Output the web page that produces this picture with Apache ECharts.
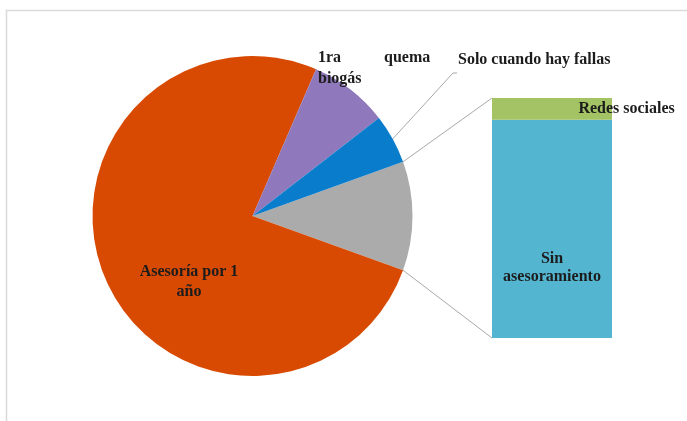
<!DOCTYPE html>
<html>
<head>
<meta charset="utf-8">
<script src="https://cdn.jsdelivr.net/npm/echarts@6/dist/echarts.min.js"></script>
<style>
  html, body { margin: 0; padding: 0; background: #ffffff; }
  #chart { width: 687px; height: 421px; }
</style>
</head>
<body>
<div id="chart"></div>
<script>
// Main pie slices (percent of respondents)
const mainNames = ['Asesoría por 1 año', '1ra quema biogás', 'Solo cuando hay fallas'];
const mainValues = [76, 8, 5];
// Breakdown of the grouped slice, shown as a stacked bar
const subNames = ['Sin asesoramiento', 'Redes sociales'];
const subValues = [10, 1];

const mainColors = ['#D84A02', '#8F78BB', '#0A7CCC'];
const otherColor = '#ABABAB';
const subColors = ['#53B5D0', '#A4C365'];
const FONT = 'Liberation Serif';
const TEXT = '#1c1c1c';

const otherValue = subValues.reduce((a, b) => a + b, 0);
const total = otherValue + mainValues.reduce((a, b) => a + b, 0);
// grouped slice centred on the right-hand horizontal
const startAngle = otherValue / total * 360 / 2;

const pieData = [{ name: 'Otros', value: otherValue, itemStyle: { color: otherColor }, label: { show: false } }]
  .concat(mainNames.map((n, i) => ({ name: n, value: mainValues[i], itemStyle: { color: mainColors[i] } })));

const chart = echarts.init(document.getElementById('chart'), null, { renderer: 'canvas' });

const labelStyle = { fontFamily: FONT, fontWeight: 'bold', fontSize: 16, color: TEXT };

const option = {
  animation: false,
  backgroundColor: '#ffffff',
  grid: { left: 492, top: 98, width: 120, height: 240 },
  xAxis: { type: 'category', data: ['Otros'], show: false },
  yAxis: { type: 'value', min: 0, max: otherValue, show: false },
  series: [
    {
      type: 'pie',
      center: [252.5, 216],
      radius: 160,
      startAngle: startAngle,
      clockwise: true,
      data: pieData,
      itemStyle: { borderWidth: 0 },
      labelLine: { show: false },
      label: {
        show: true,
        position: 'outside',
        overflow: 'none',
        ...labelStyle,
        lineHeight: 20,
        formatter: function (p) {
          if (p.dataIndex === 1) return 'Asesoría por 1\naño';
          if (p.dataIndex === 2) return '{a|1ra}{q|quema}\n{a|biogás}';
          return p.name;
        },
        rich: {
          a: { ...labelStyle, width: 66, lineHeight: 21 },
          q: { ...labelStyle, lineHeight: 21 }
        }
      },
      labelLayout: function (p) {
        if (p.dataIndex === 1) return { x: 189, y: 282, align: 'center', verticalAlign: 'middle' };
        if (p.dataIndex === 2) return { x: 318, y: 47, align: 'left', verticalAlign: 'top' };
        if (p.dataIndex === 3) return { x: 458, y: 60, align: 'left', verticalAlign: 'middle' };
        return {};
      }
    }
  ].concat(subNames.map((n, i) => ({
    type: 'bar',
    name: n,
    stack: 'otros',
    barWidth: '100%',
    data: [subValues[i]],
    itemStyle: { color: subColors[i] },
    label: {
      show: true,
      ...labelStyle,
      lineHeight: 18,
      position: i === 0 ? ['50%', '68%'] : ['72%', '50%'],
      align: i === 0 ? 'center' : 'left',
      verticalAlign: 'middle',
      formatter: i === 0 ? 'Sin\nasesoramiento' : n
    }
  })))
};

chart.setOption(option);

// Connector lines: grouped slice edges to the bar corners, and leader for the small blue slice
function drawConnectors() {
  const pieSeries = chart.getModel().getSeriesByIndex(0);
  const data = pieSeries.getData();
  const other = data.getItemLayout(0);
  const blue = data.getItemLayout(3);
  const rect = chart.getModel().getComponent('grid').coordinateSystem.getRect();
  const edge = (lay, ang) => [lay.cx + lay.r * Math.cos(ang), lay.cy + lay.r * Math.sin(ang)];
  const pTop = edge(other, other.endAngle);
  const pBot = edge(other, other.startAngle);
  const ends = [pTop, pBot].sort((a, b) => a[1] - b[1]);
  const mid = (blue.startAngle + blue.endAngle) / 2;
  const pBlue = edge(blue, mid);
  const lineStyle = { stroke: '#A9A9A9', lineWidth: 1 };
  chart.setOption({
    graphic: [
      { type: 'rect', shape: { x: 6.5, y: 10.5, width: 720, height: 450 }, style: { fill: 'none', stroke: '#DADADA', lineWidth: 1.5 }, z: 0, silent: true },
      { type: 'line', shape: { x1: ends[0][0], y1: ends[0][1], x2: rect.x, y2: rect.y }, style: lineStyle, z: 1 },
      { type: 'line', shape: { x1: ends[1][0], y1: ends[1][1], x2: rect.x, y2: rect.y + rect.height }, style: lineStyle, z: 1 },
      { type: 'polyline', shape: { points: [pBlue, [453, 73], [457, 73]] }, style: { ...lineStyle, fill: 'none' }, z: 1 }
    ]
  });
}
drawConnectors();
</script>
</body>
</html>
